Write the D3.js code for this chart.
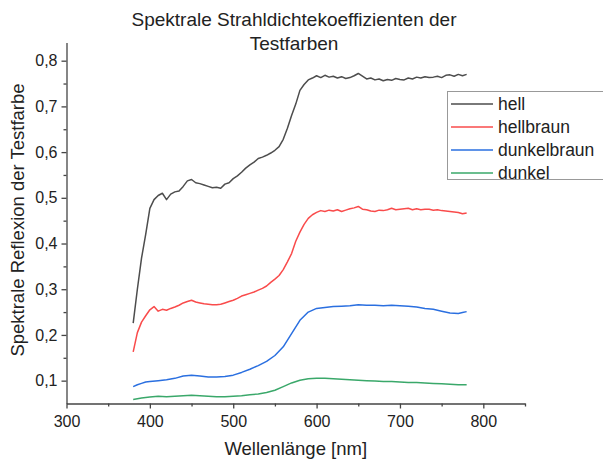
<!DOCTYPE html>
<html>
<head>
<meta charset="utf-8">
<script src="https://cdn.jsdelivr.net/npm/d3@7"></script>
<style>
  body { margin: 0; background: #fff; }
  text { font-family: "Liberation Sans", Arial, sans-serif; fill: #222; }
</style>
</head>
<body>
<script>
// wavelengths (nm)
var wl5 = d3.range(380, 781, 5);
var wlBlue = [380, 385, 390, 395, 400, 410, 420, 430, 440, 450, 460, 470, 480, 490, 500, 510, 520, 530, 540, 550, 560, 570, 580, 590, 600, 610, 620, 630, 640, 650, 660, 670, 680, 690, 700, 710, 720, 730, 740, 750, 760, 770, 775, 780];
var wl10 = d3.range(380, 781, 10);

var hell = [0.226, 0.30, 0.368, 0.42, 0.477, 0.496, 0.505, 0.51, 0.496, 0.508, 0.513, 0.515, 0.525, 0.537, 0.540, 0.533, 0.531, 0.528, 0.525, 0.522, 0.523, 0.521, 0.530, 0.533, 0.542, 0.548, 0.556, 0.565, 0.572, 0.578, 0.586, 0.589, 0.593, 0.598, 0.604, 0.612, 0.628, 0.652, 0.680, 0.705, 0.735, 0.748, 0.758, 0.762, 0.767, 0.763, 0.768, 0.764, 0.766, 0.762, 0.765, 0.761, 0.763, 0.767, 0.772, 0.766, 0.760, 0.762, 0.758, 0.760, 0.756, 0.759, 0.757, 0.761, 0.759, 0.758, 0.762, 0.760, 0.764, 0.762, 0.765, 0.763, 0.764, 0.766, 0.763, 0.768, 0.769, 0.766, 0.770, 0.767, 0.770];
var hellbraun = [0.163, 0.205, 0.228, 0.242, 0.255, 0.262, 0.252, 0.256, 0.254, 0.258, 0.261, 0.265, 0.270, 0.273, 0.276, 0.272, 0.270, 0.268, 0.267, 0.266, 0.266, 0.267, 0.270, 0.273, 0.276, 0.280, 0.285, 0.288, 0.291, 0.294, 0.298, 0.302, 0.307, 0.315, 0.322, 0.330, 0.343, 0.360, 0.378, 0.405, 0.425, 0.442, 0.455, 0.463, 0.468, 0.472, 0.470, 0.473, 0.471, 0.474, 0.470, 0.473, 0.476, 0.478, 0.481, 0.475, 0.474, 0.471, 0.470, 0.473, 0.472, 0.474, 0.477, 0.474, 0.475, 0.476, 0.477, 0.474, 0.476, 0.474, 0.475, 0.475, 0.473, 0.474, 0.472, 0.471, 0.470, 0.469, 0.468, 0.465, 0.467];
var dunkelbraun = [0.087, 0.091, 0.094, 0.097, 0.098, 0.100, 0.102, 0.105, 0.110, 0.112, 0.110, 0.108, 0.108, 0.109, 0.112, 0.118, 0.125, 0.133, 0.142, 0.155, 0.174, 0.203, 0.232, 0.250, 0.258, 0.260, 0.262, 0.263, 0.264, 0.266, 0.265, 0.265, 0.264, 0.265, 0.264, 0.263, 0.261, 0.258, 0.256, 0.252, 0.248, 0.247, 0.249, 0.251];
var dunkel = [0.059, 0.062, 0.064, 0.066, 0.065, 0.066, 0.067, 0.068, 0.067, 0.066, 0.065, 0.065, 0.066, 0.067, 0.069, 0.071, 0.074, 0.079, 0.087, 0.095, 0.101, 0.104, 0.105, 0.105, 0.104, 0.103, 0.102, 0.101, 0.100, 0.099, 0.098, 0.098, 0.097, 0.096, 0.096, 0.095, 0.094, 0.093, 0.092, 0.091, 0.091];

var names = ["hell", "hellbraun", "dunkelbraun", "dunkel"];
var colors = ["#4d4d4d", "#f94b4b", "#2a6fe0", "#3aa86a"];

var xMajor = [300, 400, 500, 600, 700, 800];
var xMinor = [350, 450, 550, 650, 750, 850];
var yMajor = [0.1, 0.2, 0.3, 0.4, 0.5, 0.6, 0.7, 0.8];
var yMinor = [0.15, 0.25, 0.35, 0.45, 0.55, 0.65, 0.75];

var series = [
  { name: names[0], x: wl5, y: hell },
  { name: names[1], x: wl5, y: hellbraun },
  { name: names[2], x: wlBlue, y: dunkelbraun },
  { name: names[3], x: wl10, y: dunkel }
];

var width = 603, height = 464;
var svg = d3.select("body").append("svg").attr("width", width).attr("height", height);

var x = d3.scaleLinear().domain([300, 850]).range([66.5, 525]);
var y = d3.scaleLinear().domain([0.05, 0.84]).range([403.5, 42.4]);
var fmt = function(d) { return d3.format(".1f")(d).replace(".", ","); };

// axes
var gx = svg.append("g").attr("transform", "translate(0," + y(0.05) + ")");
gx.call(d3.axisBottom(x).tickValues(xMajor).tickSize(5).tickPadding(7).tickSizeOuter(0));
gx.append("g").call(d3.axisBottom(x).tickValues(xMinor).tickSize(3).tickFormat("").tickSizeOuter(0))
  .select(".domain").remove();

var gy = svg.append("g").attr("transform", "translate(" + x(300) + ",0)");
gy.call(d3.axisLeft(y).tickValues(yMajor).tickFormat(fmt).tickSize(5).tickPadding(4).tickSizeOuter(0));
gy.append("g").call(d3.axisLeft(y).tickValues(yMinor).tickSize(3).tickFormat("").tickSizeOuter(0))
  .select(".domain").remove();

svg.selectAll(".domain").attr("stroke", "#444").attr("stroke-width", 1.3);
svg.selectAll(".tick line").attr("stroke", "#444").attr("stroke-width", 1.3);
svg.selectAll(".tick text").style("font-size", "16px").style("font-family", "Liberation Sans, Arial, sans-serif").attr("fill", "#222");

// lines
var line = d3.line().x(function(d) { return x(d[0]); }).y(function(d) { return y(d[1]); });
series.forEach(function(s, i) {
  svg.append("path")
     .attr("d", line(d3.zip(s.x, s.y)))
     .attr("fill", "none")
     .attr("stroke", colors[i])
     .attr("stroke-width", 1.5)
     .attr("stroke-linejoin", "round");
});

// title
svg.append("text").attr("x", 294).attr("y", 26).attr("text-anchor", "middle")
   .style("font-size", "19px").text("Spektrale Strahldichtekoeffizienten der");
svg.append("text").attr("x", 294).attr("y", 50).attr("text-anchor", "middle")
   .style("font-size", "19px").text("Testfarben");

// axis labels
svg.append("text").attr("x", x(575)).attr("y", 455).attr("text-anchor", "middle")
   .style("font-size", "18.5px").text("Wellenlänge [nm]");
svg.append("text").attr("transform", "translate(24,220) rotate(-90)").attr("text-anchor", "middle")
   .style("font-size", "18.5px").text("Spektrale Reflexion der Testfarbe");

// legend
var lg = svg.append("g");
lg.append("rect").attr("x", 447.5).attr("y", 91.5).attr("width", 170).attr("height", 88)
  .attr("fill", "#fff").attr("stroke", "#999").attr("stroke-width", 1);
names.forEach(function(n, i) {
  var yy = 104 + i * 23;
  lg.append("line").attr("x1", 451).attr("x2", 493).attr("y1", yy).attr("y2", yy)
    .attr("stroke", colors[i]).attr("stroke-width", 1.6);
  lg.append("text").attr("x", 498).attr("y", yy + 6).style("font-size", "17.5px").text(n);
});
</script>
</body>
</html>
